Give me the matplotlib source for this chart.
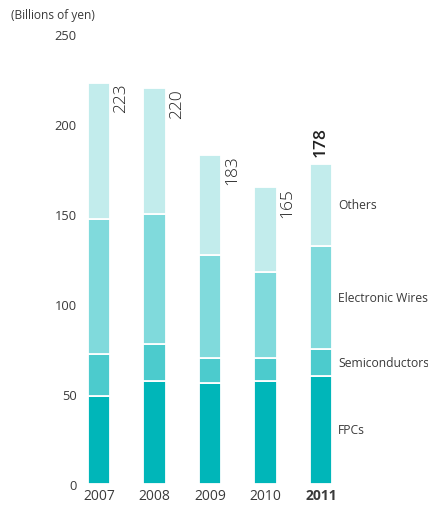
import matplotlib
matplotlib.use("Agg")
import matplotlib.pyplot as plt
import numpy as np

plt.rcParams['font.family'] = ['Open Sans', 'DejaVu Sans']

years = ['2007', '2008', '2009', '2010', '2011']
fpcs = [49, 57, 56, 57, 60]
semis = [23, 21, 14, 13, 15]
wires = [75, 72, 57, 48, 57]
others = [76, 70, 56, 47, 46]
totals = [223, 220, 183, 165, 178]
seg_names = ['FPCs', 'Semiconductors', 'Electronic Wires', 'Others']
seg_colors = ['#00b6b9', '#4ccbcd', '#80dadc', '#c2ecec']

txt = '#3a3a3a'

fig = plt.figure(figsize=(4.28, 5.06), dpi=100)
ax = fig.add_axes([71.25 / 428, 21 / 506, 277.5 / 428, 450 / 506])

x = np.arange(len(years))
w = 0.414
bottom = np.zeros(len(years))
for vals, col in zip([fpcs, semis, wires, others], seg_colors):
    ax.bar(x, vals, w, bottom=bottom, color=col, edgecolor='white', linewidth=1.3)
    bottom += np.array(vals)

# total labels
for i, t in enumerate(totals):
    if i < len(totals) - 1:
        ax.text(x[i] + w / 2 + 0.05, bottom[i], str(t), rotation=90, ha='left', va='top',
                fontsize=12.5, color='#222222', fontweight='light')
    else:
        ax.text(x[i], bottom[i] + 4, str(t), rotation=90, ha='center', va='bottom',
                fontsize=12.5, color='#222222', fontweight='semibold')

# segment names beside the last bar
last = len(years) - 1
base = 0
for vals, name in zip([fpcs, semis, wires, others], seg_names):
    ax.text(x[last] + w / 2 + 0.1, base + vals[last] / 2, name, ha='left', va='center',
            fontsize=8.7, color=txt)
    base += vals[last]

ax.set_xlim(-0.5, 4.5)
ax.set_ylim(0, 250)
ax.set_yticks([0, 50, 100, 150, 200, 250])
ax.set_xticks(x)
ax.set_xticklabels(years)
ax.get_xticklabels()[-1].set_fontweight('bold')
ax.tick_params(axis='y', length=0, pad=-4, labelsize=9.3, labelcolor=txt)
ax.tick_params(axis='x', length=0, pad=3, labelsize=10, labelcolor=txt)
for s in ax.spines.values():
    s.set_visible(False)

fig.text(11 / 428, 1 - 16 / 506, '(Billions of yen)', fontsize=8.6, color=txt, va='center', ha='left')

fig.savefig('out.png', dpi=100)
